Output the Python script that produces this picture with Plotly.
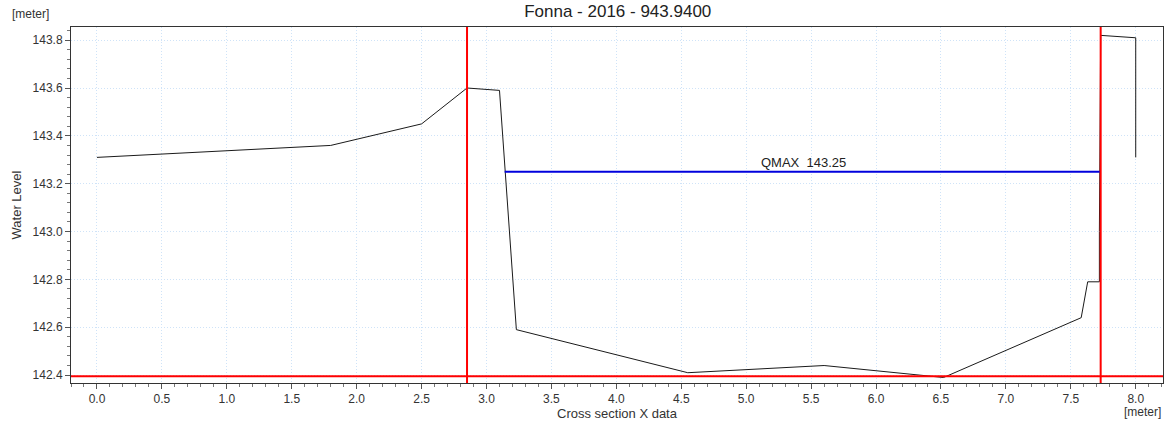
import plotly.graph_objects as go

# Cross-section profile
x_profile = [0.0, 1.8, 2.5, 2.85, 3.1, 3.23, 4.55, 5.6, 6.52, 7.58, 7.63, 7.72, 7.72, 7.73, 8.0, 8.0]
z_profile = [143.31, 143.36, 143.45, 143.60, 143.59, 142.59, 142.41, 142.44, 142.39, 142.64, 142.79, 142.79, 143.0, 143.82, 143.81, 143.31]

# Water level QMAX
qmax_x = [3.14, 7.73]
qmax_level = 143.25
qmax_label = "QMAX\u00a0 143.25"
qmax_label_x = 5.44

# Red marker lines
left_marker_x = 2.85
right_marker_x = 7.73
bed_level = 142.395

title = "Fonna - 2016 - 943.9400"

fig = go.Figure()

fig.add_trace(go.Scatter(x=x_profile, y=z_profile, mode="lines",
                         line=dict(color="#1a1a1a", width=1), showlegend=False))
fig.add_trace(go.Scatter(x=qmax_x, y=[qmax_level, qmax_level], mode="lines",
                         line=dict(color="#0000dd", width=2), showlegend=False))

fig.add_vline(x=left_marker_x, line=dict(color="#ff0000", width=2))
fig.add_vline(x=right_marker_x, line=dict(color="#ff0000", width=2))
fig.add_hline(y=bed_level, line=dict(color="#ff0000", width=2))

fig.add_annotation(x=qmax_label_x, y=qmax_level, text=qmax_label,
                   showarrow=False, yanchor="bottom", yshift=0,
                   font=dict(size=13, color="#222222"))

font_family = "Arial, Liberation Sans, sans-serif"

fig.update_layout(
    width=1170, height=430,
    margin=dict(l=71, r=7, t=27, b=47),
    plot_bgcolor="white", paper_bgcolor="white",
    font=dict(family=font_family, size=12, color="#333333"),
    title=dict(text=title, x=0.528, xanchor="center", y=0.975, yanchor="middle",
               font=dict(size=17, color="#222222")),
)

grid_color = "#cfe3f8"
grid_dash = "1px,2px"

fig.update_xaxes(
    range=[-0.2, 8.21], dtick=0.5, tick0=0, tickformat=".1f",
    showgrid=True, gridcolor=grid_color, griddash=grid_dash, gridwidth=1,
    zeroline=False, showline=True, linecolor="#333333", linewidth=1, mirror=True,
    ticks="outside", ticklen=5, tickcolor="#555555",
    minor=dict(dtick=0.1, ticks="outside", ticklen=3, tickcolor="#777777", showgrid=False),
    title=dict(text="Cross section X data", font=dict(size=13), standoff=0),
    tickfont=dict(size=12, color="#333333"),
)
fig.update_yaxes(
    range=[142.367, 143.855], dtick=0.2, tick0=142.4, tickformat=".1f",
    showgrid=True, gridcolor=grid_color, griddash=grid_dash, gridwidth=1,
    zeroline=False, showline=True, linecolor="#333333", linewidth=1, mirror=True,
    ticks="outside", ticklen=5, tickcolor="#555555",
    minor=dict(dtick=0.04, ticks="outside", ticklen=3, tickcolor="#777777", showgrid=False),
    title=dict(text="Water Level", font=dict(size=13), standoff=8),
    tickfont=dict(size=12, color="#333333"),
)

fig.add_annotation(xref="paper", yref="paper", x=-0.056, y=1.0, xanchor="left", yanchor="bottom",
                   yshift=4, text="[meter]", showarrow=False, font=dict(size=12, color="#333333"))
fig.add_annotation(xref="paper", yref="paper", x=1.0, y=0, xanchor="right", yanchor="top",
                   yshift=-20, text="[meter]", showarrow=False, font=dict(size=12, color="#333333"))

fig.write_html("out.html")
